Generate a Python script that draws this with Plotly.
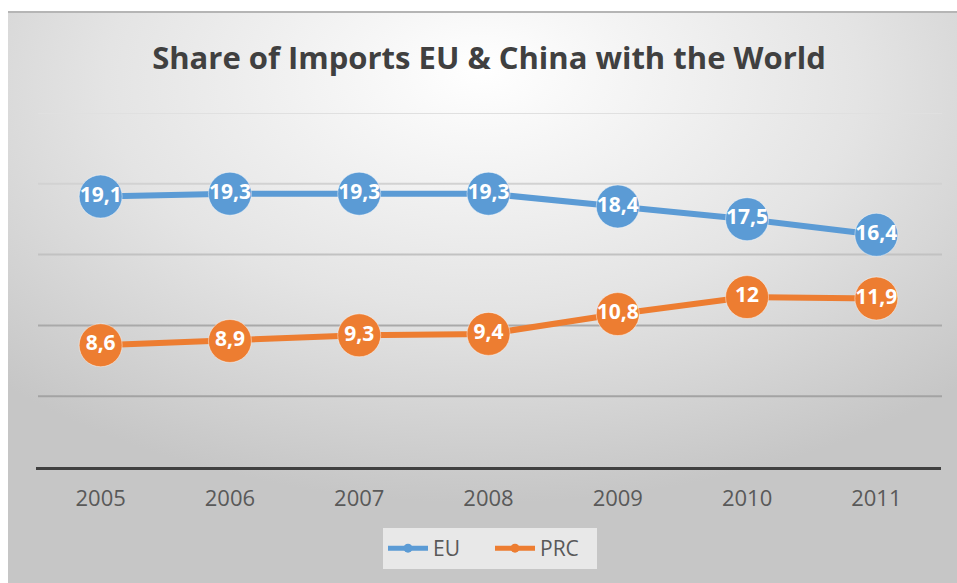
import base64
import plotly.graph_objects as go

# Share of imports with the world, by year (percent)
years = ["2005", "2006", "2007", "2008", "2009", "2010", "2011"]
eu_share = [19.1, 19.3, 19.3, 19.3, 18.4, 17.5, 16.4]
prc_share = [8.6, 8.9, 9.3, 9.4, 10.8, 12.0, 11.9]

series_names = ["EU", "PRC"]
series_colors = ["#5B9BD5", "#ED7D31"]

# Horizontal gridlines (value, colour) – darker toward the bottom
grid_values = [5, 10, 15, 20, 25]
grid_colors = ["#a3a3a3", "#a9a9a9", "#c2c2c2", "#d2d2d2", "#e0e0e0"]

W, H = 957, 583
M_L, M_R, M_T, M_B = 36, 16, 113, 116
PW, PH = W - M_L - M_R, H - M_T - M_B


def px_x(px):
    return (px - M_L) / PW


def px_y(py):
    return (H - M_B - py) / PH


def fmt(v):
    return f"{v:g}".replace(".", ",")


fig = go.Figure()

for name, vals, col in zip(series_names, [eu_share, prc_share], series_colors):
    fig.add_trace(go.Scatter(
        x=years, y=vals, name=name, mode="lines+markers+text",
        line=dict(color=col, width=6),
        marker=dict(size=43, color=col, line=dict(color="rgba(255,255,255,0.45)", width=1)),
        text=[fmt(v) for v in vals], textposition="middle center",
        textfont=dict(family="Open Sans", size=21, color="white", weight="bold"),
        cliponaxis=False, showlegend=False, hoverinfo="skip",
    ))
    # legend entry with a small marker
    fig.add_trace(go.Scatter(
        x=[None], y=[None], name=name, mode="lines+markers",
        line=dict(color=col, width=5),
        marker=dict(size=9, color=col),
        showlegend=True,
    ))

# Soft radial background
svg = (
    '<svg xmlns="http://www.w3.org/2000/svg" width="949" height="571" viewBox="0 0 949 571" preserveAspectRatio="none">'
    '<defs><radialGradient id="g" cx="50%" cy="14%" r="72%" fx="50%" fy="10%">'
    '<stop offset="0" stop-color="#ffffff"/>'
    '<stop offset="0.55" stop-color="#e4e4e4"/>'
    '<stop offset="1" stop-color="#c6c6c6"/>'
    '</radialGradient></defs>'
    '<rect x="0" y="0" width="949" height="571" fill="url(#g)"/></svg>'
)
src = "data:image/svg+xml;base64," + base64.b64encode(svg.encode()).decode()

fx0, fx1 = px_x(8), px_x(W)
fy0, fy1 = px_y(12), px_y(H)
fig.add_layout_image(dict(
    source=src, xref="paper", yref="paper", x=fx0, y=fy0,
    sizex=fx1 - fx0, sizey=fy0 - fy1, xanchor="left", yanchor="top",
    sizing="stretch", layer="below",
))

shapes = [dict(type="line", xref="paper", yref="paper", x0=fx0, x1=fx1, y0=fy0, y1=fy0,
               line=dict(color="#b5b5b5", width=2), layer="below")]
for gv, gc in zip(grid_values, grid_colors):
    shapes.append(dict(type="line", xref="paper", yref="y", x0=px_x(38), x1=px_x(942), y0=gv, y1=gv,
                       line=dict(color=gc, width=2), layer="below"))

fig.update_layout(
    width=W, height=H,
    margin=dict(l=M_L, r=M_R, t=M_T, b=M_B),
    paper_bgcolor="white", plot_bgcolor="rgba(0,0,0,0)",
    shapes=shapes,
    title=dict(text="<b>Share of Imports EU &amp; China with the World</b>",
               x=489 / W, xref="container", xanchor="center",
               y=1 - 58 / H, yref="container", yanchor="middle",
               font=dict(family="Open Sans", size=31, color="#404040")),
    xaxis=dict(type="category", range=[-0.5, 6.5], showgrid=False, zeroline=False,
               showline=True, linecolor="#404040", linewidth=3,
               ticks="outside", ticklen=10, tickcolor="rgba(0,0,0,0)",
               tickfont=dict(family="Open Sans", size=22, color="#595959"),
               fixedrange=True),
    yaxis=dict(range=[0, 25], showgrid=False, zeroline=False, showticklabels=False,
               fixedrange=True),
    legend=dict(orientation="h", x=px_x(490), xanchor="center", y=px_y(528), yanchor="top",
                bgcolor="#e8e8e8", font=dict(family="Open Sans", size=21, color="#595959"),
                itemwidth=40, tracegroupgap=0, entrywidth=52),
    showlegend=True,
)

fig.write_html("out.html")
